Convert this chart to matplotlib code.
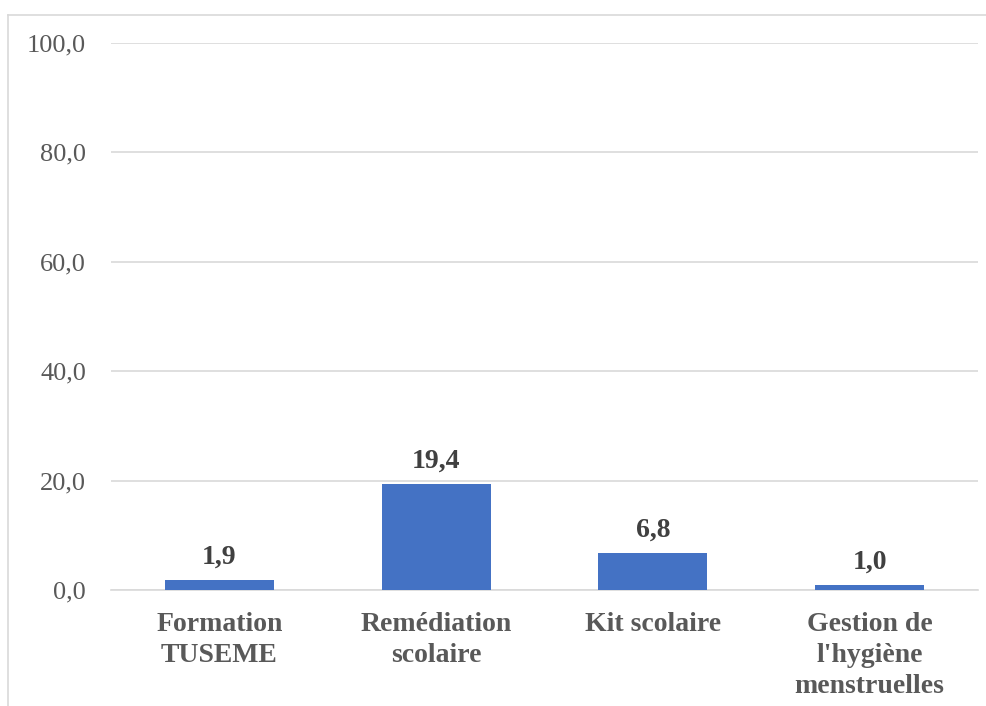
import matplotlib.pyplot as plt
from matplotlib.lines import Line2D

categories = ['Formation\nTUSEME', 'Remédiation\nscolaire', 'Kit scolaire',
              "Gestion de\nl'hygiène\nmenstruelles"]
values = [1.9, 19.4, 6.8, 1.0]
yticks = [0, 20, 40, 60, 80, 100]

plt.rcParams['font.family'] = ['Liberation Serif', 'DejaVu Serif']

fig = plt.figure(figsize=(9.87, 7.06), dpi=100)
ax = fig.add_axes([0.1125, 0.1643, 0.8784, 0.7755])

x = list(range(len(categories)))
bars = ax.bar(x, values, width=0.503, color='#4472C4', zorder=3)

for xi, v in zip(x, values):
    ax.annotate(f'{v:.1f}'.replace('.', ','), (xi, v), xytext=(0, 11.5),
                textcoords='offset points', ha='center', va='baseline',
                fontsize=20, fontweight='bold', color='#404040')

ax.set_xlim(-0.5, len(categories) - 0.5)
ax.set_ylim(0, 100)
ax.set_yticks(yticks)
ax.set_yticklabels([f'{t:.1f}'.replace('.', ',') for t in yticks],
                   fontsize=19, color='#595959')
ax.set_xticks(x)
ax.set_xticklabels(categories, fontsize=20, fontweight='bold', color='#595959',
                   linespacing=1.3, va='top')
ax.tick_params(axis='y', length=0, pad=18)
ax.tick_params(axis='x', length=0, pad=16)

ax.grid(axis='y', color='#d9d9d9', linewidth=1.2, zorder=0)
for side in ['left', 'right', 'top']:
    ax.spines[side].set_visible(False)
ax.spines['bottom'].set_color('#d9d9d9')
ax.spines['bottom'].set_linewidth(1.2)

# outer chart frame (right and bottom edges fall outside the picture)
fig.add_artist(Line2D([8 / 987, 8 / 987], [0, 1 - 15 / 706],
                      transform=fig.transFigure, color='#d9d9d9', lw=1.2))
fig.add_artist(Line2D([8 / 987, 1], [1 - 15 / 706, 1 - 15 / 706],
                      transform=fig.transFigure, color='#d9d9d9', lw=1.2))

plt.savefig('out.png', dpi=100)
